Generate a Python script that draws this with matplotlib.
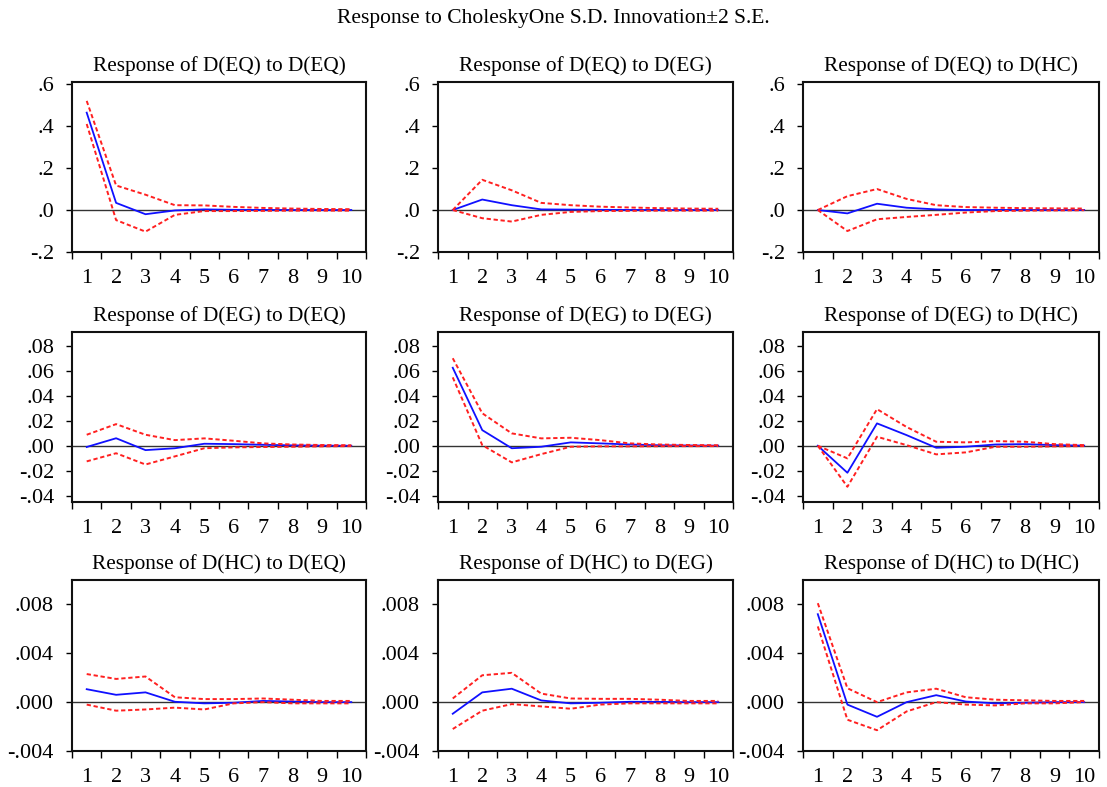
import numpy as np
import matplotlib.pyplot as plt

plt.rcParams['font.family'] = ['Liberation Serif', 'DejaVu Serif']

periods = np.arange(1, 11)
names = ['EQ', 'EG', 'HC']

# responses (blue) and +/- 2 S.E. bands (red), row = response variable, col = shock
resp = {
    ('EQ', 'EQ'): [0.464, 0.034, -0.020, -0.002, 0.003, 0.001, 0.0005, 0.0002, 0.0001, 0.0],
    ('EQ', 'EG'): [0.0, 0.050, 0.023, 0.003, 0.002, 0.001, 0.0005, 0.0003, 0.0002, 0.0001],
    ('EQ', 'HC'): [0.0, -0.016, 0.030, 0.011, 0.003, 0.0, 0.0005, 0.0003, 0.0002, 0.0001],
    ('EG', 'EQ'): [-0.001, 0.006, -0.0035, -0.002, 0.0016, 0.0013, 0.0008, 0.0003, 0.0001, 0.0],
    ('EG', 'EG'): [0.0624, 0.0125, -0.002, -0.0008, 0.0027, 0.0019, 0.001, 0.0004, 0.0002, 0.0001],
    ('EG', 'HC'): [0.0, -0.0216, 0.0179, 0.0085, -0.0016, -0.0008, 0.001, 0.0013, 0.0005, 0.0001],
    ('HC', 'EQ'): [0.00106, 0.0006, 0.0008, 0.00003, -0.0001, -0.00005, 0.0001, 0.00005, 0.0, 0.0],
    ('HC', 'EG'): [-0.00095, 0.0008, 0.0011, 0.00014, -0.0001, -0.00005, 0.00003, 0.00002, 0.0, 0.0],
    ('HC', 'HC'): [0.0072, -0.0002, -0.0012, 0.0, 0.00057, 0.00005, -0.0001, -0.00005, 0.0, 0.0],
}
upper = {
    ('EQ', 'EQ'): [0.52, 0.117, 0.073, 0.023, 0.022, 0.015, 0.010, 0.007, 0.005, 0.004],
    ('EQ', 'EG'): [0.0, 0.144, 0.094, 0.034, 0.023, 0.016, 0.012, 0.009, 0.007, 0.006],
    ('EQ', 'HC'): [0.0, 0.066, 0.100, 0.053, 0.023, 0.014, 0.011, 0.009, 0.008, 0.007],
    ('EG', 'EQ'): [0.0088, 0.0173, 0.0088, 0.0045, 0.0059, 0.004, 0.0019, 0.001, 0.0006, 0.0004],
    ('EG', 'EG'): [0.070, 0.026, 0.0099, 0.0059, 0.0064, 0.0045, 0.0019, 0.001, 0.0006, 0.0004],
    ('EG', 'HC'): [0.0, -0.0101, 0.0293, 0.015, 0.0032, 0.0027, 0.0037, 0.0032, 0.0013, 0.0005],
    ('HC', 'EQ'): [0.0023, 0.0019, 0.0021, 0.0004, 0.00025, 0.00025, 0.0003, 0.0002, 0.0001, 0.0001],
    ('HC', 'EG'): [0.0003, 0.0022, 0.0024, 0.0007, 0.0003, 0.00027, 0.00027, 0.0002, 0.0001, 0.0001],
    ('HC', 'HC'): [0.0081, 0.00114, 0.0, 0.0008, 0.0011, 0.0004, 0.0002, 0.00015, 0.0001, 0.0001],
}
lower = {
    ('EQ', 'EQ'): [0.41, -0.048, -0.103, -0.023, -0.005, -0.005, -0.004, -0.003, -0.003, -0.003],
    ('EQ', 'EG'): [0.0, -0.039, -0.055, -0.023, -0.009, -0.005, -0.004, -0.003, -0.003, -0.003],
    ('EQ', 'HC'): [0.0, -0.100, -0.044, -0.033, -0.023, -0.012, -0.005, -0.003, -0.002, -0.001],
    ('EG', 'EQ'): [-0.0125, -0.006, -0.015, -0.0085, -0.002, -0.0013, -0.001, -0.0008, -0.0005, -0.0003],
    ('EG', 'EG'): [0.0547, 0.0005, -0.0133, -0.0067, -0.0008, -0.0005, -0.0005, -0.0004, -0.0003, -0.0003],
    ('EG', 'HC'): [0.0, -0.0328, 0.0072, 0.0005, -0.0069, -0.0053, -0.0008, -0.0008, -0.0005, -0.0003],
    ('HC', 'EQ'): [-0.0002, -0.0007, -0.0006, -0.00045, -0.0006, -0.0001, 0.0, -0.0001, -0.0001, -0.0001],
    ('HC', 'EG'): [-0.0022, -0.0007, -0.00016, -0.00035, -0.00054, -0.0002, -0.0001, -0.0001, -0.0001, -0.0001],
    ('HC', 'HC'): [0.0062, -0.00144, -0.0023, -0.00076, 0.0, -0.0002, -0.00027, -0.0001, -0.0001, 0.0],
}

# y axis setup per response row
row_ylim = [(-0.2, 0.61), (-0.045, 0.091), (-0.004, 0.010)]
row_yticks = [[-0.2, 0.0, 0.2, 0.4, 0.6],
              [-0.04, -0.02, 0.0, 0.02, 0.04, 0.06, 0.08],
              [-0.004, 0.0, 0.004, 0.008]]
row_ylabels = [['-.2', '.0', '.2', '.4', '.6'],
               ['-.04', '-.02', '.00', '.02', '.04', '.06', '.08'],
               ['-.004', '.000', '.004', '.008']]

W, H = 1107, 787
fig = plt.figure(figsize=(W / 100, H / 100), dpi=100)

col_left = [72, 438, 803]
col_width = [294, 295, 296]
row_top = [82, 332, 580]
row_height = [170, 170, 171]

for i, rv in enumerate(names):
    for j, sv in enumerate(names):
        ax = fig.add_axes([col_left[j] / W, (H - row_top[i] - row_height[i]) / H,
                           col_width[j] / W, row_height[i] / H])
        ax.axhline(0, color='#333333', lw=1.0, zorder=1)
        ax.plot(periods, resp[(rv, sv)], color='#1010ff', lw=1.3, zorder=3)
        ax.plot(periods, upper[(rv, sv)], color='#ff2020', lw=1.4, ls=(0, (2.2, 1.4)), zorder=4)
        ax.plot(periods, lower[(rv, sv)], color='#ff2020', lw=1.4, ls=(0, (2.2, 1.4)), zorder=4)

        ax.set_xlim(0.5, 10.5)
        ax.set_ylim(*row_ylim[i])
        ax.set_xticks(np.arange(0.5, 11, 1))
        ax.set_xticklabels([])
        ax.set_xticks(periods, minor=True)
        ax.set_xticklabels([str(p) for p in periods], minor=True)
        ax.tick_params(axis='x', which='major', direction='out', length=5, width=1)
        ax.tick_params(axis='x', which='minor', length=0, pad=12, labelsize=16)
        ax.set_yticks(row_yticks[i])
        ax.set_yticklabels(row_ylabels[i])
        ax.tick_params(axis='y', direction='out', length=4, width=1, pad=9, labelsize=16)
        for s in ax.spines.values():
            s.set_linewidth(1.5)
            s.set_color('#111111')
        ax.set_title(f'Response of D({rv}) to D({sv})', fontsize=15.3, pad=8)

fig.text(0.5, 1 - 19 / H, 'Response to CholeskyOne S.D. Innovation\u00b12 S.E.',
         ha='center', va='center', fontsize=15.5)

fig.savefig('out.png', dpi=100)
